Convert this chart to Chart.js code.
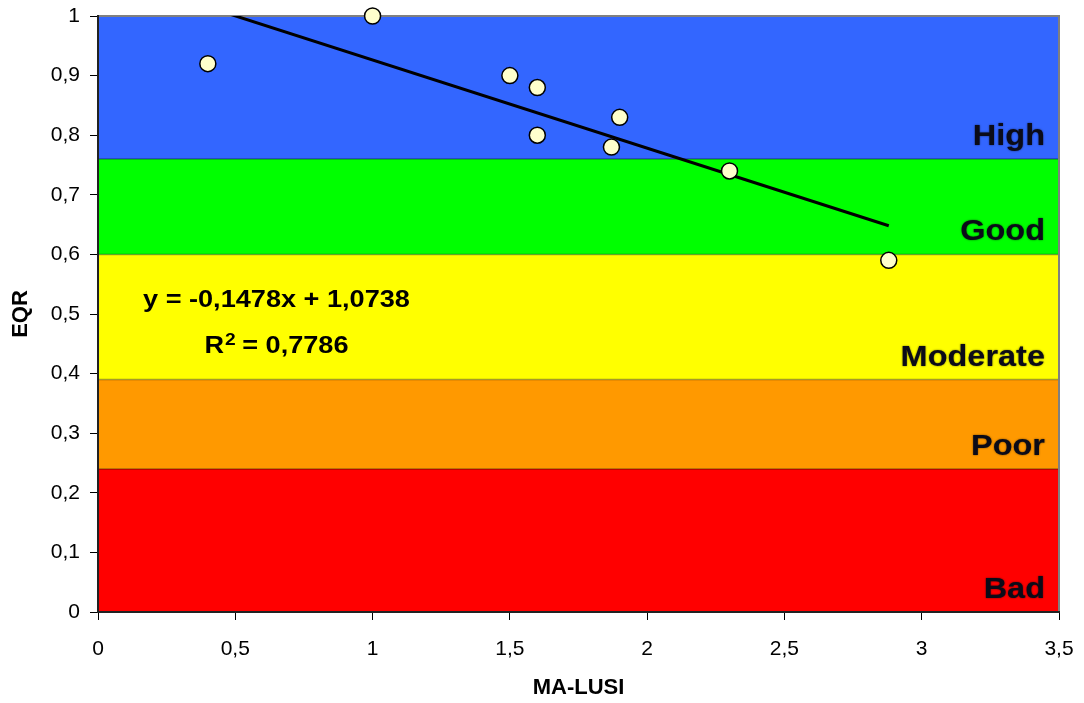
<!DOCTYPE html>
<html>
<head>
<meta charset="utf-8">
<script src="https://cdn.jsdelivr.net/npm/chart.js@4.4.0/dist/chart.umd.min.js"></script>
<style>
    html, body { margin: 0; padding: 0; background: #fff; }
    #wrap { width: 1084px; height: 703px; position: relative; }
</style>
</head>
<body>
<div id="wrap"><canvas id="chart"></canvas></div>
<script>
// observed points
const maLusi = [0.4, 1.0, 1.5, 1.6, 1.6, 1.9, 1.87, 2.3, 2.88];
const eqr = [0.92, 1.0, 0.90, 0.88, 0.80, 0.83, 0.78, 0.74, 0.59];

// linear trend line (end points)
const trendX = [0.4, 2.88];
const trendY = [1.015, 0.648];
const eqLine1 = 'y = -0,1478x + 1,0738';
const eqR2 = ' = 0,7786';

// quality classes
const bandNames = ['Bad', 'Poor', 'Moderate', 'Good', 'High'];
const bandLower = [0, 0.24, 0.39, 0.6, 0.76];
const bandUpper = [0.24, 0.39, 0.6, 0.76, 1];
const bandColors = ['#FF0000', '#FF9900', '#FFFF00', '#00FF00', '#3366FF'];

const xMin = 0, xMax = 3.5, xStep = 0.5;
const yMin = 0, yMax = 1, yStep = 0.1;

const FONT = '"Liberation Sans", Arial, sans-serif';

function comma(v) {
    return String(Math.round(v * 10) / 10).replace('.', ',');
}

const bandsPlugin = {
    id: 'bands',
    beforeDraw(chart) {
        const { ctx, chartArea: a, scales: { y } } = chart;
        ctx.save();
        bandNames.forEach((n, i) => {
            const top = y.getPixelForValue(bandUpper[i]);
            const bot = y.getPixelForValue(bandLower[i]);
            ctx.fillStyle = bandColors[i];
            ctx.fillRect(a.left, top, a.right - a.left, bot - top);
        });
        // darker seams between classes
        ctx.strokeStyle = 'rgba(0,0,0,0.35)';
        ctx.lineWidth = 1.5;
        bandLower.slice(1).forEach(v => {
            const p = y.getPixelForValue(v);
            ctx.beginPath();
            ctx.moveTo(a.left, p);
            ctx.lineTo(a.right, p);
            ctx.stroke();
        });
        // grey frame top / right
        ctx.strokeStyle = '#808080';
        ctx.lineWidth = 2;
        ctx.beginPath();
        ctx.moveTo(a.left, a.top);
        ctx.lineTo(a.right, a.top);
        ctx.lineTo(a.right, a.bottom);
        ctx.stroke();
        ctx.restore();
    },
    afterDatasetsDraw(chart) {
        const { ctx, chartArea: a, scales: { x, y } } = chart;
        ctx.save();
        // class labels, right aligned, slightly blurred
        ctx.font = 'bold 29px ' + FONT;
        ctx.fillStyle = '#0b0b18';
        ctx.shadowColor = 'rgba(0,0,0,0.6)';
        ctx.shadowBlur = 2;
        ctx.textBaseline = 'alphabetic';
        bandNames.forEach((n, i) => {
            const base = y.getPixelForValue(bandLower[i]) - 14;
            const w = ctx.measureText(n).width * 1.12;
            ctx.save();
            ctx.translate(a.right - 14 - w, base);
            ctx.scale(1.12, 1);
            ctx.fillText(n, 0, 0);
            ctx.restore();
        });
        ctx.shadowBlur = 0;
        ctx.shadowColor = 'transparent';

        // regression equation
        const sx = 1.13;
        const cx = x.getPixelForValue(0.65);
        ctx.fillStyle = '#000';
        ctx.font = 'bold 24px ' + FONT;
        let w1 = ctx.measureText(eqLine1).width * sx;
        ctx.save();
        ctx.translate(cx - w1 / 2, 307);
        ctx.scale(sx, 1);
        ctx.fillText(eqLine1, 0, 0);
        ctx.restore();

        const wR = ctx.measureText('R').width;
        const wRest = ctx.measureText(eqR2).width;
        ctx.font = 'bold 17px ' + FONT;
        const w2 = ctx.measureText('2').width;
        const tot = (wR + w2 + wRest) * sx;
        ctx.save();
        ctx.translate(cx - tot / 2, 353);
        ctx.scale(sx, 1);
        ctx.font = 'bold 24px ' + FONT;
        ctx.fillText('R', 0, 0);
        ctx.fillText(eqR2, wR + w2, 0);
        ctx.font = 'bold 17px ' + FONT;
        ctx.fillText('2', wR + 1, -8);
        ctx.restore();
        ctx.restore();
    }
};

new Chart(document.getElementById('chart'), {
    type: 'scatter',
    data: {
        datasets: [
            {
                type: 'line',
                label: 'trend',
                data: trendX.map((v, i) => ({ x: v, y: trendY[i] })),
                borderColor: '#000',
                borderWidth: 3,
                pointRadius: 0,
                fill: false,
                order: 2
            },
            {
                label: 'EQR',
                data: maLusi.map((v, i) => ({ x: v, y: eqr[i] })),
                backgroundColor: '#FFFFCC',
                borderColor: '#000',
                borderWidth: 1.5,
                pointRadius: 8,
                clip: false,
                order: 1
            }
        ]
    },
    options: {
        responsive: true,
        maintainAspectRatio: false,
        animation: false,
        layout: { padding: { top: 16, right: 25, left: 0, bottom: 0 } },
        plugins: {
            legend: { display: false },
            tooltip: { enabled: false }
        },
        scales: {
            x: {
                type: 'linear',
                min: xMin,
                max: xMax,
                afterFit: s => { s.height = 91; s.paddingLeft = 0; s.paddingRight = 0; },
                ticks: {
                    stepSize: xStep,
                    color: '#000',
                    padding: 17,
                    maxRotation: 0,
                    font: { family: FONT, size: 21 },
                    callback: v => comma(v)
                },
                grid: { drawOnChartArea: false, drawTicks: true, tickLength: 8, color: '#000' },
                border: { display: true, color: '#222', width: 2 },
                title: {
                    display: true,
                    text: 'MA-LUSI',
                    color: '#000',
                    font: { family: FONT, size: 22, weight: 'bold' },
                    padding: { top: 0, bottom: 2 }
                }
            },
            y: {
                type: 'linear',
                min: yMin,
                max: yMax,
                afterFit: s => { s.width = 98; s.paddingTop = 0; s.paddingBottom = 0; },
                ticks: {
                    stepSize: yStep,
                    color: '#000',
                    padding: 10,
                    font: { family: FONT, size: 21 },
                    callback: v => comma(v)
                },
                grid: { drawOnChartArea: false, drawTicks: true, tickLength: 8, color: '#000' },
                border: { display: true, color: '#222', width: 2 },
                title: {
                    display: true,
                    text: 'EQR',
                    color: '#000',
                    font: { family: FONT, size: 22, weight: 'bold' },
                    padding: { top: 8, bottom: 0 }
                }
            }
        }
    },
    plugins: [bandsPlugin]
});
</script>
</body>
</html>
